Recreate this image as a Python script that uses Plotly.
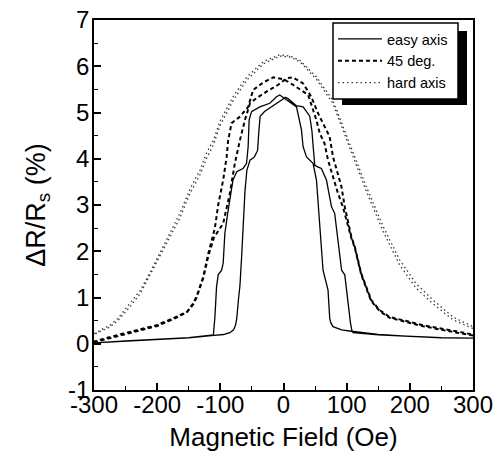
import plotly.graph_objects as go

# Field sweeps (Oe) and magnetoresistance (%) for each loop.
# Each loop is stored as the up-sweep (-300 -> 300) followed by the down-sweep (300 -> -300).

easy_up_field = [-300, -250, -200, -150, -110, -95, -85, -79, -76, -74, -71, -69, -66, -64, -61, -58,
                 -53, -46, -41, -39, -37, -30, -14, -3, 3, 7, 20, 31, 41.6, 45, 47, 49.5, 55, 60,
                 68, 76, 81, 84, 88, 92, 97, 102, 106, 108, 110, 150, 200, 250, 300]
easy_up_mr = [0.02, 0.06, 0.10, 0.13, 0.18, 0.20, 0.24, 0.30, 0.40, 0.55, 1.00, 1.25, 1.95, 2.60, 3.30, 3.75,
              3.97, 4.04, 4.18, 4.60, 4.92, 5.02, 5.16, 5.27, 5.33, 5.30, 5.15, 5.12, 4.92, 4.60, 4.26, 3.86, 3.82, 3.79,
              3.54, 2.96, 2.82, 2.46, 2.00, 1.59, 1.49, 0.87, 0.45, 0.30, 0.24, 0.19, 0.16, 0.13, 0.12]
easy_down_field = [300, 250, 200, 150, 107, 92, 78.4, 75, 73.2, 70.5, 62.6, 57.4, 52.2, 46.8, 36.4, 31,
                   28.5, 20.6, 4.7, -3, -6, -11, -21.7, -37.5, -50.6, -54.4, -56, -58.5, -64, -74, -80,
                   -87.6, -90, -92.8, -95.5, -98, -103.4, -106, -108.6, -111, -150, -200, -250, -300]
easy_down_mr = [0.12, 0.13, 0.16, 0.20, 0.27, 0.30, 0.37, 0.45, 0.55, 1.16, 1.59, 2.53, 3.54, 3.90, 4.04, 4.26,
                4.62, 5.12, 5.27, 5.36, 5.38, 5.34, 5.20, 5.12, 5.02, 4.84, 4.26, 3.90, 3.79, 3.72, 3.54,
                2.89, 2.67, 2.39, 1.74, 1.59, 1.49, 1.23, 0.58, 0.19, 0.13, 0.10, 0.06, 0.02]

deg45_up_field = [-300, -254, -201, -175, -153, -143, -137.6, -127, -119, -110, -103, -95.5, -85, -77, -69,
                  -61, -53, -42.7, -27, -8.5, 5, 15, 31, 44, 54.7, 65, 73, 78.4, 83.8, 91.7, 97, 102,
                  107.5, 112.8, 118, 123, 131, 139, 152, 168, 221, 274, 300]
deg45_up_mr = [0.03, 0.20, 0.38, 0.53, 0.68, 0.85, 1.00, 1.42, 1.90, 2.30, 2.45, 2.60, 3.25, 3.90, 4.40,
               4.84, 5.20, 5.31, 5.45, 5.60, 5.74, 5.76, 5.63, 5.34, 4.98, 4.69, 4.48, 4.04, 3.76, 3.40, 2.96, 2.67,
               2.31, 2.10, 1.81, 1.52, 1.23, 0.94, 0.73, 0.58, 0.40, 0.26, 0.20]
deg45_down_field = [300, 274, 221, 168, 152, 139, 131, 123, 118, 112.8, 107.5, 102, 94, 86.3, 78.4, 70.5,
                    65, 57.4, 52, 44, 39, 15, 0, -16, -32, -48, -53, -56, -69, -82.2, -87.6, -90, -95.5,
                    -100.7, -103.4, -108.7, -119, -127, -137.6, -143, -153, -175, -201, -254, -300]
deg45_down_mr = [0.18, 0.24, 0.38, 0.56, 0.71, 0.92, 1.20, 1.50, 1.78, 2.08, 2.28, 2.55, 2.96, 3.25, 3.61, 3.97,
                 4.33, 4.55, 4.84, 5.16, 5.38, 5.60, 5.72, 5.76, 5.65, 5.49, 5.27, 5.12, 4.91, 4.77, 4.40, 4.04, 3.54,
                 3.15, 3.00, 2.50, 1.95, 1.45, 1.02, 0.87, 0.69, 0.55, 0.40, 0.22, 0.05]

hard_up_field = [-300, -275, -262, -243, -227, -211, -196, -180, -164, -148, -132, -122, -111, -101, -80,
                 -58, -32, -6, 10, 26, 52, 78, 105, 131, 158, 184, 210, 237, 268, 300]
hard_up_mr = [0.22, 0.40, 0.55, 0.87, 1.15, 1.55, 1.95, 2.39, 2.82, 3.35, 3.76, 4.12, 4.40, 4.80, 5.34,
              5.77, 6.10, 6.25, 6.22, 6.13, 5.77, 5.27, 4.33, 3.40, 2.53, 1.81, 1.30, 0.94, 0.58, 0.37]
hard_down_field = [300, 268, 237, 210, 184, 158, 131, 105, 78, 52, 26, 10, -6, -32, -58, -80, -101, -111,
                   -122, -132, -148, -164, -180, -196, -211, -227, -243, -262, -275, -300]
hard_down_mr = [0.33, 0.52, 0.86, 1.20, 1.70, 2.42, 3.30, 4.25, 5.20, 5.72, 6.10, 6.20, 6.22, 6.05, 5.70,
                5.25, 4.70, 4.30, 4.00, 3.66, 3.25, 2.72, 2.30, 1.87, 1.48, 1.08, 0.80, 0.50, 0.36, 0.20]

x_ticks = [-300, -200, -100, 0, 100, 200, 300]
x_tick_labels = ["-300", "-200", "-100", "0", "100", "200", "300"]
y_ticks = [-1, 0, 1, 2, 3, 4, 5, 6, 7]
y_tick_labels = ["-1", "0", "1", "2", "3", "4", "5", "6", "7"]

FONT = "Arial, 'Liberation Sans', sans-serif"

fig = go.Figure()
fig.add_trace(go.Scatter(x=easy_up_field + easy_down_field, y=easy_up_mr + easy_down_mr,
                         mode="lines", name="easy axis",
                         line=dict(color="black", width=1.3)))
fig.add_trace(go.Scatter(x=deg45_up_field + deg45_down_field, y=deg45_up_mr + deg45_down_mr,
                         mode="lines", name="45 deg.",
                         line=dict(color="black", width=2, dash="4px,3px")))
fig.add_trace(go.Scatter(x=hard_up_field + hard_down_field, y=hard_up_mr + hard_down_mr,
                         mode="lines", name="hard axis",
                         line=dict(color="#3a3a3a", width=1.3, dash="1.5px,3px")))

axis_common = dict(
    showgrid=False, zeroline=False, showline=True, linecolor="black", linewidth=1.8,
    mirror=True, ticks="inside", ticklen=7, tickwidth=1.5, tickcolor="black",
    tickfont=dict(family=FONT, size=24, color="black"), automargin=False,
)

fig.update_xaxes(
    range=[-300, 300], tickvals=x_ticks, ticktext=x_tick_labels,
    minor=dict(ticks="inside", ticklen=4, tickwidth=1.2, tickcolor="black", dtick=50, tick0=0),
    title=dict(text="Magnetic Field (Oe)", font=dict(family=FONT, size=26, color="black")),
    ticklabelstandoff=-8,
    **axis_common,
)
fig.update_yaxes(
    range=[-1, 7], tickvals=y_ticks, ticktext=y_tick_labels,
    minor=dict(ticks="inside", ticklen=4, tickwidth=1.2, tickcolor="black", dtick=0.5, tick0=0),
    title=dict(text="ΔR/R<sub>s</sub> (%)", font=dict(family=FONT, size=27, color="black")),
    ticklabelstandoff=-2,
    **axis_common,
)

# legend frame: offset black shadow, then the white bordered box on top of it
fig.add_shape(type="rect", xref="paper", yref="paper",
              x0=0.6544, x1=0.9842, y0=0.7703, y1=0.9703,
              fillcolor="black", line=dict(width=0), layer="above")
fig.add_shape(type="rect", xref="paper", yref="paper",
              x0=0.6306, x1=0.9604, y0=0.7865, y1=0.9919,
              fillcolor="white", line=dict(color="black", width=1.5), layer="above")

fig.update_layout(
    width=495, height=452,
    margin=dict(l=94, r=22, t=20, b=62, autoexpand=False),
    paper_bgcolor="white", plot_bgcolor="white",
    font=dict(family=FONT, color="black"),
    showlegend=True,
    legend=dict(x=0.6306, y=0.992, xanchor="left", yanchor="top",
                bgcolor="rgba(0,0,0,0)", borderwidth=0,
                font=dict(family=FONT, size=14.5, color="black"),
                itemwidth=44, tracegroupgap=0),
)

fig.write_html("out.html")
